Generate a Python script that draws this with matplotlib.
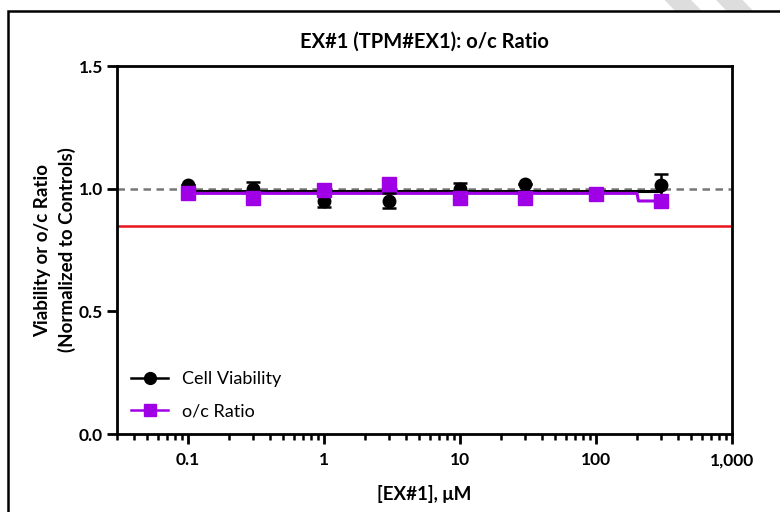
import matplotlib
matplotlib.use('Agg')
import matplotlib.pyplot as plt
from matplotlib.patches import Polygon, Rectangle
from matplotlib.ticker import FixedLocator, LogLocator, NullFormatter

plt.rcParams['font.family'] = ['Lato', 'DejaVu Sans']

# concentrations, uM
conc = [0.1, 0.3, 1, 3, 10, 30, 100, 300]

# cell viability (normalized), with SD
viability = [1.015, 1.0, 0.951, 0.951, 1.0, 1.019, 0.98, 1.015]
viability_err = [0.0, 0.029, 0.026, 0.03, 0.022, 0.0, 0.0, 0.044]

# o/c ratio (normalized)
oc_ratio = [0.981, 0.963, 0.996, 1.02, 0.961, 0.961, 0.978, 0.95]

# fitted curves
via_fit_x = [0.1, 300]
via_fit_y = [0.992, 0.992]
oc_fit_x = [0.1, 200, 205, 300]
oc_fit_y = [0.981, 0.981, 0.95, 0.95]

control_level = 1.0
threshold = 0.85

purple = '#A000E6'

fig = plt.figure(figsize=(7.8, 5.12), dpi=100)
ax = fig.add_axes([0.15, 0.1523, 0.7885, 0.7187])

ax.axhline(control_level, color='#777777', linestyle=(0, (3, 2.2)), linewidth=1.8, zorder=1)
ax.axhline(threshold, color='#E8141B', linewidth=1.8, zorder=1)

ax.plot(via_fit_x, via_fit_y, color='black', linewidth=2.2, zorder=2)
ax.plot(oc_fit_x, oc_fit_y, color=purple, linewidth=2.2, zorder=3)

ax.errorbar(conc, viability, yerr=viability_err, fmt='o', color='black',
            markersize=9, capsize=5, capthick=1.8, elinewidth=1.8, zorder=4)
ax.plot(conc, oc_ratio, 's', color=purple, markersize=9.5, zorder=5)

# legend handles
ax.plot([], [], '-o', color='black', markersize=8.5, linewidth=1.8, label='Cell Viability')
ax.plot([], [], '-s', color=purple, markersize=8.5, linewidth=1.8, label='o/c Ratio')
ax.legend(loc='lower left', bbox_to_anchor=(0.0, 0.0), frameon=False, fontsize=13,
          handlelength=2.0, handletextpad=0.8, labelspacing=0.9, borderaxespad=0.4)

ax.set_xscale('log')
ax.set_xlim(0.03, 1000)
ax.set_ylim(0, 1.5)
ax.xaxis.set_major_locator(FixedLocator([0.1, 1, 10, 100, 1000]))
ax.set_xticklabels(['0.1', '1', '10', '100', '1,000'])
ax.xaxis.set_minor_locator(LogLocator(base=10, subs=range(2, 10), numticks=20))
ax.xaxis.set_minor_formatter(NullFormatter())
ax.set_yticks([0, 0.5, 1.0, 1.5])
ax.set_yticklabels(['0.0', '0.5', '1.0', '1.5'])

for s in ax.spines.values():
    s.set_linewidth(2)
ax.tick_params(axis='both', which='major', length=7, width=2, labelsize=12.5)
ax.tick_params(axis='x', which='major', pad=6)
ax.tick_params(axis='y', which='major', pad=3)
ax.tick_params(axis='x', which='minor', length=4, width=1.8)
for lbl in ax.get_xticklabels() + ax.get_yticklabels():
    lbl.set_fontweight('bold')

ax.set_title('EX#1 (TPM#EX1): o/c Ratio', fontsize=14.5, fontweight='bold', pad=13)
ax.set_xlabel('[EX#1], \u03bcM', fontsize=13.5, fontweight='bold', labelpad=12)
ax.set_ylabel('Viability or o/c Ratio\n(Normalized to Controls)', fontsize=13.5,
              fontweight='bold', labelpad=2, linespacing=1.45)

# page frame and faint background stripes
fig.patches.append(Rectangle((0.010, -0.05), 1.1, 1.028, transform=fig.transFigure,
                             fill=False, edgecolor='black', linewidth=1.8))
for x0 in (0.852, 0.918):
    fig.patches.append(Polygon([(x0, 1.0), (x0 + 0.034, 1.0), (x0 + 0.048, 0.978),
                                (x0 + 0.014, 0.978)], closed=True,
                               transform=fig.transFigure, facecolor='#DDDDDD',
                               edgecolor='none', zorder=-1))

fig.savefig('out.png', dpi=100)
